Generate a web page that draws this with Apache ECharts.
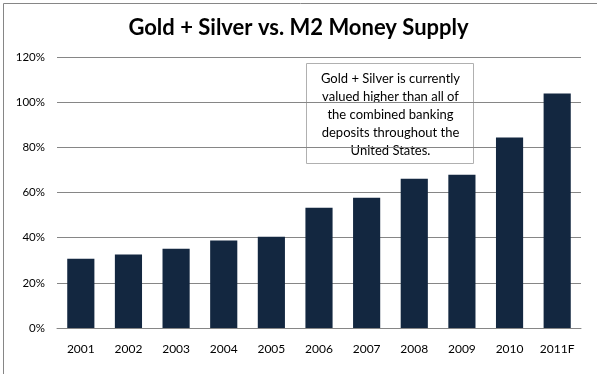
<!DOCTYPE html>
<html><head><meta charset="utf-8">
<script src="https://cdn.jsdelivr.net/npm/echarts@6/dist/echarts.min.js"></script>
<style>html,body{margin:0;padding:0;background:#fff}#c{width:597px;height:374px}</style>
</head><body><div id="c"></div>
<script>
const categories = ['2001','2002','2003','2004','2005','2006','2007','2008','2009','2010','2011F'];
const values = [30.7, 32.5, 35.1, 38.7, 40.4, 53.3, 57.7, 66.1, 67.9, 84.3, 103.8];
const titleText = 'Gold + Silver vs. M2 Money Supply';
const noteLines = ['Gold + Silver is currently','valued higher than all of','the combined banking','deposits throughout the','United States.'];

const chart = echarts.init(document.getElementById('c'), null, {renderer:'canvas'});
chart.setOption({
  animation:false,
  backgroundColor:'#fff',
  title:{text:titleText,left:'center',top:12,textStyle:{fontFamily:'Lato',fontWeight:'bold',fontSize:22,color:'#000'}},
  graphic:[
    {type:'rect',left:1,top:1,shape:{width:594,height:371},style:{fill:null,stroke:'#868686',lineWidth:1},silent:true,z:-1},
    {type:'group',left:306,top:63,children:[
      {type:'rect',shape:{x:0,y:0,width:167,height:100},style:{fill:'#fff',stroke:'#b0b0b0',lineWidth:1}},
      {type:'text',x:84,y:6,style:{text:noteLines.join('\n'),textAlign:'center',fontFamily:'Lato',fontSize:13,lineHeight:18,fill:'#000'}}
    ],z:10}
  ],
  grid:{left:57,right:16,top:57,bottom:46,containLabel:false},
  xAxis:{type:'category',data:categories,axisLine:{lineStyle:{color:'#868686'}},axisTick:{show:false},
    axisLabel:{color:'#000',fontFamily:'Lato',fontSize:12,margin:15}},
  yAxis:{type:'value',min:0,max:120,interval:20,axisLine:{show:false},axisTick:{show:false},
    axisLabel:{formatter:'{value}%',color:'#000',fontFamily:'Lato',fontSize:11.5,margin:12},
    splitLine:{lineStyle:{color:'#868686',width:1}}},
  series:[{type:'bar',data:values,barCategoryGap:'43%',itemStyle:{color:'#132740'}}]
});
</script></body></html>
